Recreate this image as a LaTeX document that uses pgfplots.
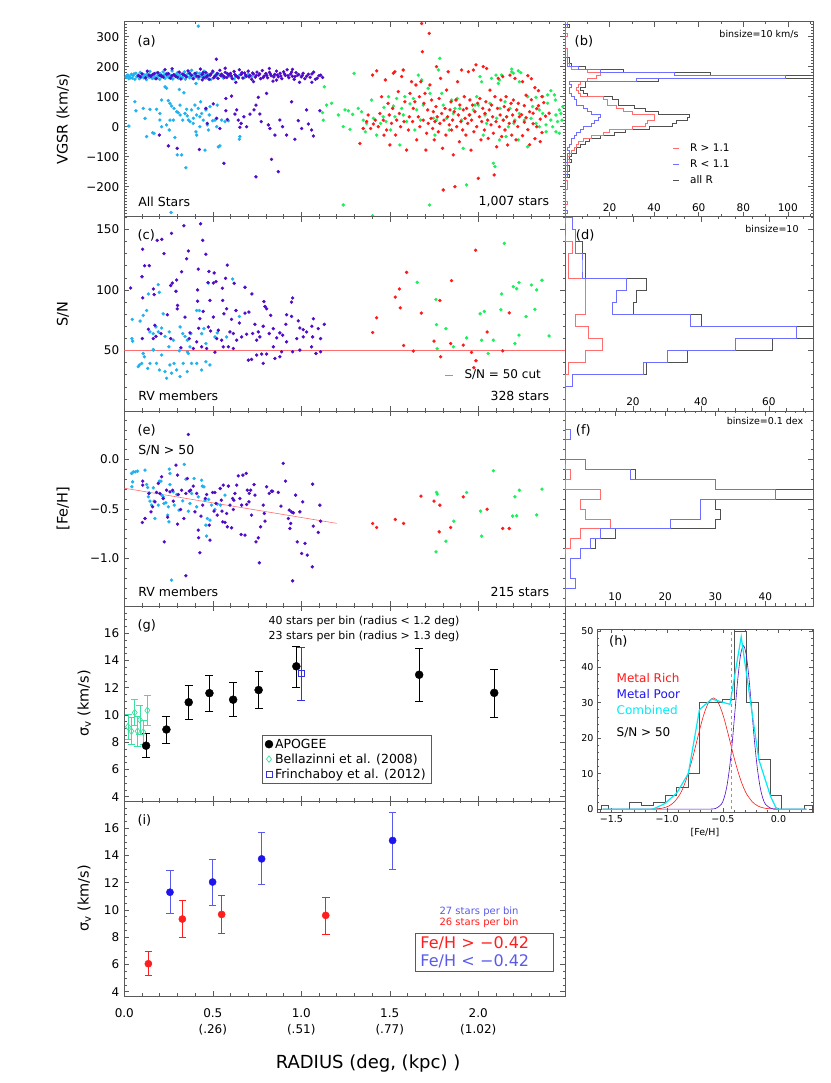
\documentclass[border=0pt]{standalone}
\usepackage{fontspec}
\setmainfont{DejaVu Sans}
\usepackage{pgfplots}
\pgfplotsset{compat=1.18}
\newcommand{\fs}[1]{\fontsize{#1}{#1}\selectfont}
\definecolor{cy}{RGB}{30,178,240}
\definecolor{pu}{RGB}{80,10,200}
\definecolor{rd}{RGB}{255,25,25}
\definecolor{gr}{RGB}{25,240,90}
\definecolor{hr}{RGB}{255,110,110}
\definecolor{hb}{RGB}{110,110,255}
\definecolor{hg}{RGB}{80,80,80}
\definecolor{bel}{RGB}{60,225,160}
\definecolor{fri}{RGB}{50,50,225}
\definecolor{ib}{RGB}{30,20,240}
\definecolor{ibe}{RGB}{90,90,235}
\definecolor{ir}{RGB}{255,30,30}
\definecolor{cmb}{RGB}{0,235,245}
\definecolor{ax}{RGB}{90,90,90}
\definecolor{org}{RGB}{240,120,60}
\pgfplotsset{
  base/.style={scale only axis, anchor=south west,
    axis line style={ax, line width=0.6pt}, tick style={ax, line width=0.5pt},
    tick align=inside, major tick length=5pt, minor tick length=2.5pt,
    tick label style={font=\fs{12}}},
  Lpanel/.style={base, width=440.7pt, xmin=0, xmax=2.49,
    xtick={0,0.5,1,1.5,2},
    minor xtick={0.1,0.2,0.3,0.4,0.6,0.7,0.8,0.9,1.1,1.2,1.3,1.4,1.6,1.7,1.8,1.9,2.1,2.2,2.3,2.4},
    xticklabels={},
    ylabel style={at={(axis description cs:-0.139,0.5)}, anchor=center, font=\fs{14.5}},
    yticklabel style={xshift=-1.5pt}},
  Rpanel/.style={base, width=248pt, xmin=0, ytick pos=right, yticklabels={},
    xticklabel style={anchor=south, yshift=1.5pt, font=\fs{10.5}}},
  pts/.style={only marks, mark=*, mark size=1.5pt, color=#1, mark options={draw=none, fill=#1}},
  hst/.style={const plot mark right, line width=0.6pt, #1, no marks},
}
\begin{document}
\begin{tikzpicture}
\useasboundingbox (0pt,0pt) rectangle (830pt,1083pt);

% ---------------- (a) ----------------
\begin{axis}[Lpanel, at={(124.3pt,866.3pt)}, height=195pt, ymin=-300, ymax=350,
  ytick={-200,-100,0,100,200,300}, yticklabels={−200,−100,0,100,200,300},
  minor ytick={-290,-280,...,340}, ylabel={VGSR (km/s)}]
\addplot[pts=cy] coordinates {
(0.01,165) (0.02,172) (0.025,160) (0.03,168) (0.04,175) (0.045,162) (0.05,170) (0.06,158) (0.065,178) (0.07,166)
(0.08,172) (0.085,160) (0.09,181) (0.10,168) (0.105,175) (0.11,163) (0.12,170) (0.125,157) (0.13,177) (0.14,165)
(0.145,184) (0.15,171) (0.16,161) (0.165,174) (0.17,168) (0.18,179) (0.185,163) (0.19,170) (0.20,158) (0.205,176)
(0.21,166) (0.22,183) (0.225,172) (0.23,161) (0.24,169) (0.245,178) (0.25,164) (0.26,171) (0.27,186) (0.275,159)
(0.28,174) (0.29,167) (0.30,180) (0.305,162) (0.31,171) (0.32,176) (0.33,165) (0.34,183) (0.345,158) (0.35,170)
(0.36,177) (0.37,163) (0.38,188) (0.39,172) (0.40,166) (0.41,180) (0.42,160) (0.43,174) (0.44,168) (0.45,185)
(0.46,162) (0.47,176) (0.48,170) (0.49,158) (0.50,181) (0.52,165) (0.54,173) (0.56,162) (0.58,178) (0.60,167)
(0.62,159) (0.65,171) (0.68,164) (0.70,175)
(0.015,170) (0.035,163) (0.055,176) (0.075,169) (0.095,164) (0.115,172) (0.135,167) (0.155,163) (0.175,160) (0.195,174)
(0.215,169) (0.235,176) (0.255,168) (0.265,162) (0.285,170) (0.295,175) (0.315,166) (0.325,161) (0.335,172) (0.355,167)
(0.365,182) (0.375,169) (0.385,161) (0.395,176) (0.405,170) (0.415,164) (0.425,178) (0.435,167) (0.455,172) (0.465,168)
(0.475,160) (0.485,174) (0.51,169) (0.53,176) (0.55,168) (0.57,165) (0.59,172) (0.63,167) (0.66,176) (0.72,168)
(0.418,335) (0.264,-286) (0.026,2)
(0.06,83) (0.066,53) (0.107,61) (0.117,28) (0.145,58) (0.16,-20) (0.168,-22) (0.182,58) (0.201,22) (0.211,89)
(0.23,133) (0.239,128) (0.249,87) (0.254,-11) (0.258,78) (0.267,69) (0.281,61) (0.286,-36) (0.296,50) (0.299,-94)
(0.305,47) (0.311,124) (0.315,39) (0.324,-94) (0.33,22) (0.337,113) (0.343,44) (0.348,-137) (0.356,36) (0.362,22)
(0.371,17) (0.38,56) (0.39,28) (0.399,72) (0.405,144) (0.409,39) (0.409,-28) (0.418,61) (0.427,33) (0.431,83)
(0.437,44) (0.446,22) (0.456,-78) (0.461,56) (0.469,6) (0.48,39) (0.484,67) (0.499,20) (0.512,22) (0.525,72)
(0.531,-67) (0.54,-64) (0.55,22) (0.569,17) (0.588,20) (0.653,-33) (0.65,-42) (0.126,-33) (0.201,44) (0.239,6)
(0.277,22) (0.315,72) (0.352,58) (0.39,11) (0.427,0) (0.475,-11) (0.522,0) (0.211,0) (0.258,22) (0.405,-17)
};
\addplot[pts=pu] coordinates {
(0.08,170) (0.10,176) (0.12,163) (0.13,185) (0.15,168) (0.16,174) (0.18,160) (0.19,180) (0.20,171) (0.22,165)
(0.23,190) (0.25,177) (0.26,162) (0.28,173) (0.29,168) (0.31,182) (0.32,159) (0.33,175) (0.35,166) (0.36,186)
(0.38,171) (0.39,160) (0.40,178) (0.42,167) (0.43,192) (0.44,174) (0.45,163) (0.46,181) (0.47,170) (0.48,158)
(0.49,176) (0.50,185) (0.51,167) (0.52,173) (0.53,161) (0.54,188) (0.55,175) (0.56,169) (0.57,181) (0.58,164)
(0.59,172) (0.60,178) (0.61,160) (0.62,184) (0.63,170) (0.64,166) (0.65,190) (0.66,174) (0.67,162) (0.68,179)
(0.69,168) (0.70,185) (0.71,171) (0.72,158) (0.73,176) (0.74,165) (0.75,182) (0.76,172) (0.77,160) (0.78,187)
(0.79,169) (0.80,177) (0.81,163) (0.82,181) (0.83,170) (0.84,152) (0.85,174) (0.86,185) (0.87,166) (0.88,178)
(0.89,160) (0.90,183) (0.91,171) (0.92,190) (0.93,163) (0.94,176) (0.95,168) (0.96,158) (0.97,180) (0.98,172)
(0.99,148) (1.00,166) (1.01,178) (1.02,160) (1.04,175) (1.05,165) (1.07,182) (1.08,158) (1.10,170) (1.12,164)
(0.52,225) (0.27,193) (0.57,195) (0.82,194) (0.95,191) (0.73,150) (0.63,148) (0.44,156) (0.86,155) (1.06,148)
(0.09,166) (0.14,172) (0.17,177) (0.21,169) (0.24,175) (0.27,170) (0.30,165) (0.34,172) (0.37,178) (0.41,169)
(0.445,180) (0.465,166) (0.485,172) (0.505,163) (0.525,178) (0.545,170) (0.565,165) (0.585,176) (0.605,169) (0.625,174)
(0.645,163) (0.665,180) (0.685,172) (0.705,166) (0.725,179) (0.745,170) (0.765,176) (0.785,164) (0.805,171) (0.825,176)
(0.845,166) (0.865,172) (0.885,169) (0.905,176) (0.925,170) (0.945,182) (0.965,167) (0.985,174) (1.005,170) (1.03,168)
(1.06,176) (1.09,162) (1.11,172)
(0.198,-28) (0.249,-64) (0.299,-72) (0.424,-76) (0.461,61) (0.469,11) (0.503,76) (0.522,28) (0.54,-6) (0.563,-122)
(0.574,94) (0.582,24) (0.606,102) (0.625,42) (0.635,56) (0.644,22) (0.653,-2) (0.66,11) (0.676,33) (0.691,0)
(0.71,42) (0.733,56) (0.744,72) (0.757,98) (0.766,42) (0.774,17) (0.804,111) (0.814,6) (0.823,-6) (0.832,-109)
(0.851,-28) (0.87,-150) (0.879,22) (0.894,0) (0.917,-28) (0.945,83) (0.964,-42) (0.983,20) (1.002,-6) (1.03,56)
(1.04,9) (1.058,-11) (1.068,-31) (1.105,53) (0.574,53) (0.744,-167)
};
\addplot[pts=gr] coordinates {
(1.12,47) (1.124,22) (1.13,133) (1.143,72) (1.171,78) (1.209,39) (1.237,0) (1.247,56) (1.266,53) (1.29,41)
(1.298,178) (1.275,-9) (1.237,-261) (1.322,61) (1.341,50) (1.35,22) (1.362,-17) (1.369,11) (1.397,89) (1.407,28)
(1.426,-28) (1.448,11) (1.463,33) (1.467,64) (1.478,17) (1.493,100) (1.505,-11) (1.52,69) (1.529,33) (1.539,94)
(1.557,-61) (1.567,61) (1.576,39) (1.585,100) (1.595,17) (1.614,76) (1.633,94) (1.642,-11) (1.652,56) (1.661,172)
(1.674,22) (1.68,156) (1.689,72) (1.717,128) (1.727,111) (1.746,28) (1.755,-28) (1.764,22) (1.774,189) (1.783,228)
(1.793,111) (1.802,72) (1.821,28) (1.836,-11) (1.849,89) (1.859,44) (1.868,61) (1.881,94) (1.896,61) (1.906,22)
(1.915,-72) (1.934,-194) (1.953,39) (1.972,56) (1.981,72) (1.991,100) (2.0,72) (2.01,167) (2.019,150) (2.028,-28)
(2.038,39) (2.047,11) (2.066,78) (2.075,161) (2.085,-122) (2.094,-133) (2.104,28) (2.113,144) (2.123,61) (2.132,172)
(2.141,22) (2.151,83) (2.16,33) (2.17,0) (2.179,61) (2.189,183) (2.198,178) (2.207,22) (2.217,56) (2.226,-44)
(2.232,150) (2.189,192) (2.226,186) (2.24,180) (2.12,156) (2.1,172) (2.279,100) (2.326,98) (2.364,100) (2.392,106)
(2.41,120) (2.43,106) (2.458,56) (2.439,39) (2.467,44) (2.392,78) (2.364,44) (2.345,56) (2.307,67) (2.298,28)
(2.326,11) (2.345,0) (2.383,6) (2.42,0) (2.439,-17) (2.41,22) (2.448,17) (2.383,-17) (2.279,-67) (2.12,-44)
(2.157,-33) (1.725,-261) (2.458,-22) (2.473,22) (2.436,89) (2.477,67) (2.2,11) (2.232,44) (2.26,22) (1.403,-297)
};
\addplot[pts=rd] coordinates {
(1.331,-56) (1.35,-6) (1.369,17) (1.378,39) (1.392,-6) (1.403,172) (1.407,9) (1.418,22) (1.426,186) (1.435,0)
(1.444,44) (1.454,100) (1.463,22) (1.467,-28) (1.475,156) (1.482,-11) (1.49,78) (1.497,39) (1.501,-61) (1.51,11)
(1.516,61) (1.52,178) (1.529,183) (1.533,-28) (1.539,22) (1.548,117) (1.554,44) (1.561,0) (1.567,167) (1.576,189)
(1.58,17) (1.585,83) (1.595,-78) (1.605,-11) (1.61,33) (1.614,111) (1.623,150) (1.629,17) (1.633,61) (1.642,83)
(1.648,139) (1.652,-44) (1.661,33) (1.667,100) (1.67,0) (1.676,150) (1.68,344) (1.684,250) (1.689,22) (1.693,78)
(1.699,111) (1.704,-78) (1.708,-22) (1.714,56) (1.717,11) (1.723,311) (1.727,139) (1.733,28) (1.736,89) (1.742,-6)
(1.746,50) (1.751,-44) (1.755,17) (1.761,67) (1.764,200) (1.768,33) (1.774,-17) (1.779,94) (1.783,11) (1.787,161)
(1.793,44) (1.798,-72) (1.802,-211) (1.806,22) (1.812,61) (1.817,-28) (1.821,122) (1.827,33) (1.83,183) (1.836,6)
(1.84,56) (1.846,83) (1.849,-11) (1.855,22) (1.859,-94) (1.864,50) (1.868,-200) (1.874,89) (1.878,0) (1.883,150)
(1.887,39) (1.893,-50) (1.896,72) (1.902,17) (1.906,189) (1.912,-11) (1.915,56) (1.921,100) (1.925,28) (1.93,-28)
(1.934,61) (1.94,11) (1.944,183) (1.949,39) (1.953,89) (1.959,-78) (1.962,22) (1.968,72) (1.972,189) (1.975,-17)
(1.981,50) (1.987,206) (1.991,0) (1.996,78) (2.0,-172) (2.006,33) (2.009,94) (2.015,-44) (2.019,17) (2.025,61)
(2.028,200) (2.034,-11) (2.038,44) (2.043,83) (2.047,194) (2.053,22) (2.056,-39) (2.062,56) (2.066,122) (2.072,6)
(2.075,72) (2.081,33) (2.085,-22) (2.09,-161) (2.094,100) (2.1,17) (2.104,-67) (2.109,61) (2.113,161) (2.119,0)
(2.123,39) (2.128,89) (2.132,-33) (2.138,167) (2.141,22) (2.147,67) (2.151,-11) (2.157,100) (2.16,33) (2.166,-61)
(2.17,56) (2.175,11) (2.179,172) (2.185,78) (2.189,-28) (2.194,39) (2.198,89) (2.204,17) (2.207,161) (2.213,-44)
(2.217,56) (2.223,0) (2.226,78) (2.232,33)
(2.25,150) (2.26,70) (2.27,30) (2.28,-10) (2.29,50) (2.30,90) (2.31,10) (2.32,-40) (2.33,60) (2.34,120)
(2.35,25) (2.36,-20) (2.37,80) (2.25,-30) (2.27,105) (2.29,-60) (2.31,45) (2.33,0) (2.35,-50) (2.28,170)
(2.30,160) (2.34,70) (2.26,15) (2.36,100) (2.245,40) (2.32,130) (2.38,35) (2.40,45)
};
\node[anchor=west,font=\fs{13}] at (axis description cs:0.022,0.897) {(a)};
\node[anchor=west,font=\fs{12.5}] at (axis description cs:0.024,0.077) {All Stars};
\node[anchor=east,font=\fs{12.5}] at (axis description cs:0.972,0.077) {1,007 stars};
\end{axis}

% ---------------- (b) ----------------
\begin{axis}[Rpanel, at={(565pt,866.3pt)}, height=195pt, xmax=111.3, ymin=-300, ymax=350,
  xtick={20,40,60,80,100}, xticklabels={20,40,60,80,100}, minor xtick={10,30,50,70,90,110},
  ytick={-200,-100,0,100,200,300}, minor ytick={-290,-280,...,340}]
\addplot[hst=hg] table[x=c,y=v] {
v c
-300 0
-290 1
-280 0
-270 0
-260 1
-250 0
-240 0
-230 0
-220 0
-210 1
-200 1
-190 1
-180 0
-170 2
-160 1
-150 2
-140 2
-130 1
-120 3
-110 2
-100 3
-90 5
-80 5
-70 7
-60 9
-50 11
-40 16
-30 22
-20 27
-10 38
0 48
10 50
20 55
30 56
40 42
50 36
60 31
70 24
80 24
90 21
100 10
110 8
120 7
130 9
140 9
150 42
160 113
170 65
180 26
190 9
200 3
210 2
220 2
230 1
240 1
250 1
260 0
270 0
280 0
290 0
300 1
310 0
320 0
330 2
340 1
350 0
};
\addplot[hst=hr] table[x=c,y=v] {
v c
-300 0
-290 0
-280 0
-270 0
-260 1
-250 0
-240 0
-230 0
-220 0
-210 1
-200 1
-190 1
-180 0
-170 1
-160 1
-150 1
-140 1
-130 1
-120 2
-110 1
-100 2
-90 3
-80 4
-70 5
-60 6
-50 8
-40 12
-30 17
-20 20
-10 30
0 36
10 37
20 40
30 40
40 30
50 26
60 23
70 19
80 19
90 17
100 7
110 6
120 5
130 6
140 7
150 10
160 14
170 16
180 10
190 3
200 2
210 1
220 1
230 1
240 1
250 1
260 0
270 0
280 0
290 0
300 1
310 0
320 0
330 1
340 1
350 0
};
\addplot[hst=hb] table[x=c,y=v] {
v c
-300 0
-290 1
-280 0
-270 0
-260 0
-250 0
-240 0
-230 0
-220 0
-210 0
-200 0
-190 0
-180 0
-170 1
-160 0
-150 1
-140 1
-130 0
-120 1
-110 1
-100 1
-90 2
-80 1
-70 2
-60 3
-50 3
-40 4
-30 5
-20 7
-10 8
0 12
10 13
20 15
30 16
40 12
50 10
60 8
70 5
80 5
90 4
100 3
110 2
120 2
130 3
140 2
150 32
160 99
170 49
180 16
190 6
200 1
210 1
220 1
230 0
240 0
250 0
260 0
270 0
280 0
290 0
300 0
310 0
320 0
330 1
340 0
350 0
};
\draw[hr, line width=0.7pt] (axis description cs:0.435,0.352) -- (axis description cs:0.46,0.352);
\draw[hb, line width=0.7pt] (axis description cs:0.435,0.270) -- (axis description cs:0.46,0.270);
\draw[hg, line width=0.7pt] (axis description cs:0.435,0.188) -- (axis description cs:0.46,0.188);
\node[anchor=west,font=\fs{10.5}] at (axis description cs:0.49,0.352) {R > 1.1};
\node[anchor=west,font=\fs{10.5}] at (axis description cs:0.49,0.270) {R < 1.1};
\node[anchor=west,font=\fs{10.5}] at (axis description cs:0.49,0.188) {all R};
\node[anchor=west,font=\fs{13}] at (axis description cs:0.025,0.897) {(b)};
\node[anchor=east,font=\fs{9.5}] at (axis description cs:0.956,0.935) {binsize=10 km/s};
\end{axis}

% ---------------- (c) ----------------
\begin{axis}[Lpanel, at={(124.3pt,672pt)}, height=194.3pt, ymin=0, ymax=160.5,
  ytick={50,100,150}, yticklabels={50,100,150}, minor ytick={10,20,...,160}, ylabel={S/N}]
\addplot[hr, line width=0.6pt] coordinates {(0,50) (2.49,50)};
\addplot[pts=cy] coordinates {
(0.045,75.7) (0.043,59.8) (0.047,57.7) (0.079,36.6) (0.085,38) (0.098,39.3) (0.107,47.5) (0.113,44.8) (0.132,35.2) (0.145,39.3)
(0.164,50.3) (0.182,39.3) (0.198,33.9) (0.211,46.2) (0.23,32.5) (0.239,27) (0.258,38) (0.267,31.2) (0.281,39.3) (0.296,33.9)
(0.315,28.4) (0.333,39.3) (0.356,32.5) (0.362,47.5) (0.38,39.3) (0.409,39.3) (0.437,33.9) (0.461,40.7) (0.484,38) (0.089,74.3)
(0.107,79) (0.126,83) (0.136,96.7) (0.198,98) (0.192,104.4) (0.164,63.9) (0.179,69.4) (0.192,65.3) (0.211,68.6) (0.23,61.7)
(0.252,53) (0.254,65.3) (0.277,58.5) (0.315,69.4) (0.33,63.9) (0.343,61.7) (0.356,58.5) (0.371,53) (0.376,63.9) (0.424,83)
(0.437,63.9) (0.45,68) (0.461,55.7) (0.512,61.2) (0.525,64.5) (0.578,61.2) (0.612,109) (0.475,105.7) (0.409,83) (0.356,48.9)
(0.311,49.7) (0.145,65.3) (0.22,80.3) (0.164,50.8) (0.65,78.1)
};
\addplot[pts=pu] coordinates {
(0.036,101.6) (0.10,110.9) (0.104,93.4) (0.115,120) (0.104,133.6) (0.141,120) (0.186,141) (0.212,141.8) (0.224,130) (0.267,146.7)
(0.337,153) (0.362,132.2) (0.352,125.7) (0.324,115) (0.431,154.6) (0.443,141) (0.461,129.5) (0.418,117.2) (0.478,115.3) (0.508,114)
(0.582,120.5) (0.271,105.7) (0.262,103.6) (0.296,108.2) (0.292,98.9) (0.301,87.2) (0.299,84.4) (0.164,100.8) (0.169,96.2) (0.102,59.8)
(0.136,67.5) (0.179,61.7) (0.243,79.5) (0.262,59.8) (0.32,52.2) (0.371,64.5) (0.42,68.3) (0.414,100) (0.414,90.7) (0.473,106)
(0.503,105.7) (0.518,106.8) (0.572,109.6) (0.621,105.5) (0.554,101.4) (0.556,91.3) (0.484,91.3) (0.446,82.2) (0.427,76.2) (0.503,77.6)
(0.563,80.3) (0.578,84.4) (0.682,102.2) (0.721,96.7) (0.789,90.4) (0.795,86.3) (0.804,84.4) (0.827,79) (0.631,83) (0.682,80.9)
(0.704,81.7) (0.606,75.7) (0.650,72.7) (0.738,71.6) (0.785,70) (0.842,68) (0.917,79.5) (0.945,78.1) (0.951,93.4) (0.945,89.9)
(0.913,71.6) (0.895,62.6) (0.992,68.6) (1.011,67.2) (1.03,65.3) (1.06,70) (1.068,76.2) (1.096,68) (1.13,71.6) (1.064,61.2)
(1.109,59.8) (1.083,47.5) (1.109,48.9) (0.992,50.3) (0.951,48.9) (0.889,48.9) (0.879,44.8) (0.851,43.4) (0.804,47) (0.785,39.3)
(0.776,47) (0.748,46.2) (0.719,42.6) (0.701,42) (0.748,58.5) (0.766,61.2) (0.725,64) (0.691,63.4) (0.663,61.2) (0.635,58.5)
(0.616,51.6) (0.588,53) (0.559,53) (0.55,58.5) (0.512,48.6) (0.465,51.6) (0.437,53) (0.409,57.1) (0.39,51.6) (0.819,64)
(0.861,60.4) (0.974,59.8) (1.011,61.2) (0.842,53) (0.917,57.1) (1.058,53) (0.983,74.4) (0.879,64.5) (0.757,65.3) (0.616,64)
(0.522,59.8) (0.488,66.1) (0.475,69.4) (0.531,66.7) (0.597,65.3) (0.343,77.6) (0.367,59.8) (0.164,59.8) (0.207,63.9) (0.173,70.8)
};
\addplot[pts=gr] coordinates {
(1.655,106.3) (1.76,92.1) (1.764,71.3) (1.817,68) (1.768,51.4) (1.859,53) (1.934,60.4) (2.01,80.3) (2.034,82.2) (2.019,58.5)
(2.056,47.5) (2.085,58.5) (2.147,138.5) (2.132,96.7) (2.128,83.6) (2.198,102.7) (2.217,101) (2.23,106) (2.207,55.7) (2.23,62.6)
(2.3,104) (2.33,100) (2.36,108) (2.4,62) (2.32,84) (2.27,78)
};
\addplot[pts=rd] coordinates {
(1.403,64.8) (1.426,77) (1.531,94) (1.554,100.8) (1.595,114.5) (1.559,85.2) (1.578,54.1) (1.633,49.5) (1.678,80.9) (1.783,91.3)
(1.787,44.8) (1.849,107.7) (1.75,57.7) (1.844,55.7) (1.915,54.4) (1.962,48.4) (1.985,132.8) (1.987,41.5) (1.975,35.8) (2.05,65.3)
(2.138,49.7) (2.175,81.1)
};
\draw[hr, line width=0.8pt] (axis description cs:0.728,0.185) -- (axis description cs:0.746,0.185);
\node[anchor=west,font=\fs{12}] at (axis description cs:0.764,0.185) {S/N = 50 cut};
\node[anchor=west,font=\fs{13}] at (axis description cs:0.022,0.903) {(c)};
\node[anchor=west,font=\fs{12.5}] at (axis description cs:0.024,0.077) {RV members};
\node[anchor=east,font=\fs{12.5}] at (axis description cs:0.972,0.077) {328 stars};
\end{axis}

% ---------------- (d) ----------------
\begin{axis}[Rpanel, at={(565pt,672pt)}, height=194.3pt, xmax=73, ymin=0, ymax=160.5,
  xtick={20,40,60}, xticklabels={20,40,60}, minor xtick={5,10,...,70},
  ytick={50,100,150}, minor ytick={10,20,...,160}]
\addplot[hst=hg] table[x=c,y=v] {
v c
0 0
10 0
20 2
30 24
40 36
50 61
60 75
70 40
80 20
90 21
100 24
110 6
120 6
130 5
140 3
150 2
160 0
};
\addplot[hst=hr] table[x=c,y=v] {
v c
0 0
10 0
20 0
30 1
40 6
50 11
60 7
70 3
80 6
90 6
100 6
110 1
120 1
130 2
140 0
150 0
160 0
};
\addplot[hst=hb] table[x=c,y=v] {
v c
0 0
10 0
20 2
30 23
40 30
50 50
60 68
70 37
80 14
90 15
100 18
110 5
120 5
130 3
140 3
150 2
160 0
};
\node[anchor=west,font=\fs{13}] at (axis description cs:0.03,0.903) {(d)};
\node[anchor=east,font=\fs{9.5}] at (axis description cs:0.956,0.937) {binsize=10};
\end{axis}

% ---------------- (e) ----------------
\begin{axis}[Lpanel, at={(124.3pt,477pt)}, height=195pt, ymin=-1.48, ymax=0.49,
  ytick={-1,-0.5,0}, yticklabels={−1.0,−0.5,0.0}, minor ytick={-1.4,-1.3,...,0.45}, ylabel={[Fe/H]}]
\addplot[hr, line width=0.6pt] coordinates {(0,-0.29) (1.2,-0.645)};
\addplot[pts=cy] coordinates {
(0.041,-0.141) (0.051,-0.125) (0.062,-0.125) (0.075,-0.118) (0.047,-0.226) (0.043,-0.276) (0.117,-0.108) (0.126,-0.253) (0.132,-0.283) (0.141,-0.337)
(0.136,-0.377) (0.145,-0.421) (0.154,-0.461) (0.164,-0.286) (0.168,-0.421) (0.173,-0.596) (0.192,-0.461) (0.198,-0.219) (0.207,-0.219) (0.211,-0.36)
(0.22,-0.377) (0.224,-0.444) (0.235,-0.438) (0.245,-0.562) (0.252,-0.63) (0.258,-0.253) (0.254,-0.098) (0.277,-0.327) (0.282,-0.461) (0.296,-0.354)
(0.309,-0.512) (0.33,-0.418) (0.339,-0.05) (0.348,-0.199) (0.362,-0.522) (0.371,-0.444) (0.38,-0.343) (0.394,-0.192) (0.409,-0.478) (0.418,-0.377)
(0.437,-0.209) (0.441,-0.269) (0.45,-0.276) (0.456,-0.411) (0.461,-0.663) (0.465,-0.774) (0.469,-0.596) (0.476,-0.404) (0.493,-0.461) (0.512,-0.505)
(0.525,-0.451) (0.544,-0.461) (0.569,-0.36) (0.267,-1.219) (0.484,-0.613) (0.249,-0.478) (0.258,-0.141)
};
\addplot[pts=pu] coordinates {
(0.104,-0.219) (0.104,-0.259) (0.102,-0.636) (0.117,-0.596) (0.139,-0.343) (0.151,-0.529) (0.16,-0.478) (0.173,-0.428) (0.182,-0.333) (0.192,-0.242)
(0.201,-0.343) (0.211,-0.175) (0.22,-0.394) (0.226,-0.832) (0.239,-0.31) (0.245,-0.583) (0.258,-0.327) (0.273,-0.31) (0.277,-0.421) (0.292,-0.057)
(0.301,-0.158) (0.305,-0.354) (0.318,-0.505) (0.324,-0.31) (0.301,-0.653) (0.337,-0.596) (0.348,-0.343) (0.356,-0.192) (0.362,0.253) (0.367,-0.32)
(0.375,-0.31) (0.39,-0.269) (0.399,-0.529) (0.409,-0.343) (0.418,-0.714) (0.42,-0.791) (0.427,-0.943) (0.433,-0.572) (0.443,-0.461) (0.458,-0.394)
(0.465,-0.354) (0.48,-0.663) (0.484,-0.815) (0.499,-0.333) (0.507,-0.522) (0.512,-0.333) (0.518,-0.444) (0.525,-0.562) (0.542,-0.293) (0.548,-0.411)
(0.552,-0.522) (0.556,-0.63) (0.559,-0.259) (0.569,-0.636) (0.578,-0.545) (0.582,-0.68) (0.588,-0.269) (0.597,-0.461) (0.606,-0.69) (0.612,-0.394)
(0.616,-0.505) (0.619,-0.411) (0.625,-0.343) (0.635,-0.259) (0.644,-0.165) (0.653,-0.394) (0.66,-0.758) (0.663,-0.461) (0.67,-0.158) (0.682,-0.764)
(0.689,-0.141) (0.691,-0.455) (0.695,-0.31) (0.704,-0.428) (0.706,-0.343) (0.714,-0.31) (0.719,-0.562) (0.733,-0.253) (0.738,-0.36) (0.744,-0.832)
(0.757,-0.791) (0.763,-1.044) (0.77,-0.68) (0.785,-0.461) (0.791,-0.545) (0.795,-0.623) (0.804,-0.276) (0.819,-0.343) (0.832,-0.32) (0.838,-0.32)
(0.87,-0.333) (0.885,-0.471) (0.898,-0.04) (0.911,-0.219) (0.927,-0.596) (0.932,-0.512) (0.936,-0.697) (0.94,-0.646) (0.945,-0.529) (0.951,-1.226)
(0.955,-0.539) (0.968,-0.36) (0.977,-0.832) (0.992,-0.529) (1.002,-0.949) (1.008,-0.428) (1.021,-0.848) (1.034,-0.966) (1.062,-1.084) (1.064,-0.249)
(1.068,-0.673) (1.096,-0.737) (1.105,-0.461) (1.109,-0.623) (0.348,-1.175)
};
\addplot[pts=gr] coordinates {
(1.764,-0.333) (1.768,-0.35) (1.862,-0.623) (1.817,-0.825) (1.761,-0.933) (1.934,-0.333) (2.013,-0.522) (2.019,-0.774) (2.085,-0.114) (2.194,-0.572)
(2.207,-0.377) (2.217,-0.569) (2.232,-0.31) (2.36,-0.30) (2.33,-0.56)
};
\addplot[pts=rd] coordinates {
(1.403,-0.646) (1.426,-0.687) (1.531,-0.606) (1.578,-0.646) (1.676,-0.37) (1.75,-0.421) (1.783,-0.461) (1.779,-0.731) (1.844,-0.687) (1.915,-0.377)
(2.05,-0.502) (2.138,-0.697) (2.175,-0.697)
};
\node[anchor=west,font=\fs{13}] at (axis description cs:0.022,0.90) {(e)};
\node[anchor=west,font=\fs{12.5}] at (axis description cs:0.024,0.80) {S/N > 50};
\node[anchor=west,font=\fs{12.5}] at (axis description cs:0.024,0.073) {RV members};
\node[anchor=east,font=\fs{12.5}] at (axis description cs:0.972,0.073) {215 stars};
\end{axis}

% ---------------- (f) ----------------
\begin{axis}[Rpanel, at={(565pt,477pt)}, height=195pt, xmax=49.5, ymin=-1.48, ymax=0.49,
  xtick={10,20,30,40}, xticklabels={10,20,30,40}, minor xtick={2,4,...,48},
  ytick={-1,-0.5,0}, minor ytick={-1.4,-1.3,...,0.45}]
\addplot[hst=hg] table[x=c,y=v] {
v c
-1.5 0
-1.4 0
-1.3 2
-1.2 1
-1.1 1
-1.0 3
-0.9 6
-0.8 10
-0.7 30
-0.6 31
-0.5 30
-0.4 50
-0.3 30
-0.2 14
-0.1 4
0.0 0
0.1 0
0.2 1
0.3 0
0.4 0
0.5 0
};
\addplot[hst=hr] table[x=c,y=v] {
v c
-1.5 0
-1.4 0
-1.3 0
-1.2 0
-1.1 0
-1.0 0
-0.9 1
-0.8 3
-0.7 9
-0.6 4
-0.5 3
-0.4 7
-0.3 0
-0.2 1
-0.1 0
0.0 0
0.1 0
0.2 0
0.3 0
0.4 0
0.5 0
};
\addplot[hst=hb] table[x=c,y=v] {
v c
-1.5 0
-1.4 0
-1.3 2
-1.2 1
-1.1 1
-1.0 3
-0.9 5
-0.8 7
-0.7 21
-0.6 27
-0.5 27
-0.4 42
-0.3 30
-0.2 13
-0.1 4
0.0 0
0.1 0
0.2 1
0.3 0
0.4 0
0.5 0
};
\node[anchor=west,font=\fs{13}] at (axis description cs:0.03,0.90) {(f)};
\node[anchor=east,font=\fs{9.5}] at (axis description cs:0.975,0.949) {binsize=0.1 dex};
\end{axis}

% ---------------- (g) ----------------
\begin{axis}[Lpanel, at={(124.3pt,282pt)}, height=195pt, ymin=3.68, ymax=18,
  ytick={4,6,8,10,12,14,16}, yticklabels={4,6,8,10,12,14,16}, minor ytick={4.5,5,...,17.5},
  ylabel={σ\textsubscript{v} (km/s)}, ylabel style={at={(axis description cs:-0.091,0.5)}},
  legend style={at={(axis description cs:0.312,0.338)}, anchor=north west, draw=ax, font=\fs{12.5}, inner xsep=3pt, inner ysep=1.5pt, row sep=0pt},
  legend cell align=left]
\addplot[only marks, mark=*, mark size=4pt, black,
  error bars/.cd, y dir=both, y explicit, error bar style={black, line width=0.6pt},
  error mark options={rotate=90, mark size=4pt, black, line width=0.6pt}]
  table[x=x, y=y, y error plus=ep, y error minus=em] {
x y ep em
0.123 7.74 0.88 0.88
0.238 8.93 1.0 0.98
0.364 10.93 1.21 1.24
0.481 11.6 1.3 1.31
0.615 11.12 1.26 1.24
0.759 11.83 1.36 1.33
0.972 13.57 1.48 1.57
1.666 12.95 1.95 1.95
2.09 11.62 1.71 1.76
};
\addlegendentry{APOGEE}
\addplot[only marks, mark=diamond, mark size=3.3pt, bel, mark options={line width=0.7pt},
  error bars/.cd, y dir=both, y explicit, error bar style={bel, line width=0.6pt},
  error mark options={rotate=90, mark size=3.5pt, bel, line width=0.6pt}]
  table[x=x, y=y, y error=e] {
x y e
0.021 9.14 0.9
0.040 8.81 1.0
0.059 10.17 0.95
0.075 8.81 1.1
0.088 9.64 1.05
0.107 8.74 0.9
0.130 10.33 1.1
};
\addlegendentry{Bellazinni et al. (2008)}
\addplot[only marks, mark=square, mark size=3pt, fri, mark options={line width=0.7pt},
  error bars/.cd, y dir=both, y explicit, error bar style={fri, line width=0.6pt},
  error mark options={rotate=90, mark size=4pt, fri, line width=0.6pt}]
  table[x=x, y=y, y error plus=ep, y error minus=em] {
x y ep em
0.999 13.05 1.95 2.0
};
\addlegendentry{Frinchaboy et al. (2012)}
\node[anchor=west,font=\fs{13}] at (axis description cs:0.022,0.90) {(g)};
\node[font=\fs{11}] at (axis description cs:0.544,0.919) {40 stars per bin (radius < 1.2 deg)};
\node[font=\fs{11}] at (axis description cs:0.544,0.846) {23 stars per bin (radius > 1.3 deg)};
\end{axis}

% ---------------- (i) ----------------
\begin{axis}[Lpanel, at={(124.3pt,87pt)}, height=195pt, ymin=3.68, ymax=18,
  ytick={4,6,8,10,12,14,16}, yticklabels={4,6,8,10,12,14,16}, minor ytick={4.5,5,...,17.5},
  ylabel={σ\textsubscript{v} (km/s)}, ylabel style={at={(axis description cs:-0.091,0.5)}},
  xticklabels={0.0,{0.5\\(.26)},{1.0\\(.51)},{1.5\\(.77)},{2.0\\(1.02)}},
  xticklabel style={align=center, anchor=north, yshift=-9pt, font=\fontsize{12}{16.5}\selectfont},
  xlabel={RADIUS (deg, (kpc) )},
  xlabel style={at={(axis description cs:0.553,0)}, anchor=center, yshift=-68pt, font=\fs{18}}]
\addplot[only marks, mark=*, mark size=3.6pt, ib, mark options={fill=ib, draw=ib},
  error bars/.cd, y dir=both, y explicit, error bar style={ibe, line width=0.7pt},
  error mark options={rotate=90, mark size=3.8pt, ibe, line width=0.7pt}]
  table[x=x, y=y, y error plus=ep, y error minus=em] {
x y ep em
0.258 11.3 1.6 1.58
0.499 12.05 1.67 1.68
0.776 13.75 1.92 1.9
1.516 15.1 2.1 2.12
};
\addplot[only marks, mark=*, mark size=3.6pt, ir, mark options={fill=ir, draw=ir},
  error bars/.cd, y dir=both, y explicit, error bar style={ir, line width=0.7pt},
  error mark options={rotate=90, mark size=3.8pt, ir, line width=0.7pt}]
  table[x=x, y=y, y error plus=ep, y error minus=em] {
x y ep em
0.136 6.05 0.88 0.83
0.328 9.33 1.34 1.33
0.550 9.67 1.38 1.36
1.138 9.60 1.35 1.36
};
\node[anchor=west,font=\fs{13}] at (axis description cs:0.022,0.90) {(i)};
\node[font=\fs{10}, text=ibe] at (axis description cs:0.805,0.432) {27 stars per bin};
\node[font=\fs{10}, text=ir] at (axis description cs:0.805,0.378) {26 stars per bin};
\node[draw=ax, line width=0.6pt, anchor=north west, align=left, text width=128pt, inner xsep=5pt, inner ysep=3pt, font=\fontsize{16}{18}\selectfont]
  at (axis description cs:0.66,0.322) {\textcolor{ir}{Fe/H > −0.42}\\\textcolor{ibe}{Fe/H < −0.42}};
\end{axis}

% ---------------- (h) ----------------
\begin{axis}[base, at={(597pt,271pt)}, width=216pt, height=183pt,
  xmin=-1.63, xmax=0.31, ymin=-0.8, ymax=50.7,
  xtick={-1.5,-1,-0.5,0}, xticklabels={−1.5,−1.0,−0.5,0.0},
  minor xtick={-1.6,-1.4,-1.3,-1.2,-1.1,-0.9,-0.8,-0.7,-0.6,-0.4,-0.3,-0.2,-0.1,0.1,0.2,0.3},
  ytick={0,10,20,30,40,50}, yticklabels={0,10,20,30,40,50}, minor ytick={2,4,...,50},
  tick label style={font=\fs{9.5}}, major tick length=4pt, minor tick length=2pt,
  xlabel={[Fe/H]}, xlabel style={at={(axis description cs:0.5,0)}, anchor=center, yshift=-21pt, font=\fs{9.5}}]
\addplot[const plot mark left, hg, line width=0.8pt, no marks] table[x=x,y=c] {
x c
-1.63 0
-1.595 1
-1.53 0
-1.335 2
-1.23 1
-1.125 2
-1.02 4
-0.915 6
-0.81 10
-0.71 30
-0.60 30
-0.50 31
-0.40 50
-0.29 30
-0.18 14
-0.07 4
0.03 0
0.235 1
0.30 0
0.31 0
};
\addplot[rd, line width=0.6pt, smooth] coordinates {
(-1.58,0) (-1.185,0.01) (-1.085,0.12) (-1.035,0.35) (-0.985,0.89) (-0.935,2.06) (-0.885,4.2) (-0.86,5.8) (-0.835,7.8) (-0.81,10.2)
(-0.785,12.9) (-0.76,15.8) (-0.735,19.0) (-0.71,22.1) (-0.685,25.1) (-0.66,27.6) (-0.635,29.6) (-0.61,30.9) (-0.585,31.3) (-0.56,30.9)
(-0.535,29.6) (-0.51,27.6) (-0.485,25.1) (-0.46,22.1) (-0.435,19.0) (-0.41,15.8) (-0.385,12.9) (-0.36,10.2) (-0.335,7.8) (-0.31,5.8)
(-0.285,4.2) (-0.235,2.06) (-0.185,0.89) (-0.135,0.35) (-0.085,0.12) (0.015,0.01) (0.25,0)
};
\addplot[pu, line width=0.6pt, smooth] coordinates {
(-1.58,0) (-0.665,0) (-0.615,0.02) (-0.565,0.18) (-0.515,1.3) (-0.49,3.0) (-0.465,6.2) (-0.44,11.5) (-0.415,18.9) (-0.39,27.9)
(-0.365,36.8) (-0.34,43.5) (-0.315,46) (-0.29,43.5) (-0.265,36.8) (-0.24,27.9) (-0.215,18.9) (-0.19,11.5) (-0.165,6.2) (-0.14,3.0)
(-0.115,1.3) (-0.065,0.18) (-0.015,0.02) (0.035,0) (0.25,0)
};
\addplot[cmb, line width=1.2pt] coordinates {
(-1.58,0) (-1.13,0) (-1.024,1.5) (-0.915,4.5) (-0.81,10) (-0.71,28) (-0.60,31) (-0.436,29.5) (-0.335,48.5) (-0.177,14)
(-0.07,3.5) (-0.024,0.5) (0.0,0) (0.25,0)
};
\addplot[org, dashed, line width=0.9pt] coordinates {(-0.42,0) (-0.42,50)};
\node[anchor=west,font=\fs{13}] at (axis description cs:0.04,0.93) {(h)};
\node[anchor=west,font=\fs{12}, text=rd] at (axis description cs:0.075,0.732) {Metal Rich};
\node[anchor=west,font=\fs{12}, text=ib] at (axis description cs:0.075,0.645) {Metal Poor};
\node[anchor=west,font=\fs{12}, text=cmb] at (axis description cs:0.075,0.557) {Combined};
\node[anchor=west,font=\fs{12}] at (axis description cs:0.075,0.432) {S/N > 50};
\end{axis}
\end{tikzpicture}
\end{document}
